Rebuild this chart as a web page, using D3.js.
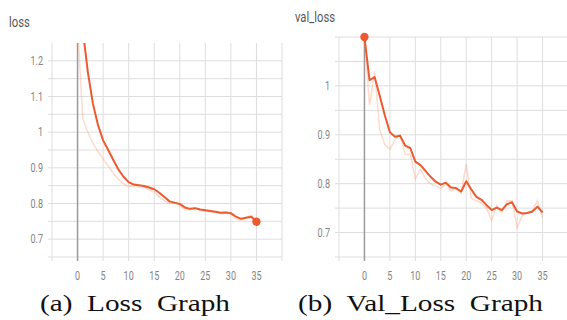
<!DOCTYPE html>
<html><head><meta charset="utf-8">
<script src="https://cdn.jsdelivr.net/npm/d3@7"></script>
<style>
html,body{margin:0;padding:0;background:#fff;}
svg{display:block;}
</style></head>
<body>
<svg id="chart" width="567" height="320"></svg>
<script>
// ---- data ----
const epochs = d3.range(0, 36);
const lossSmoothed = [1.50,1.29,1.17,1.08,1.02,0.977,0.950,0.922,0.895,0.875,0.860,0.853,0.851,0.849,0.845,0.840,0.830,0.818,0.806,0.802,0.799,0.789,0.785,0.787,0.783,0.781,0.779,0.777,0.774,0.775,0.773,0.763,0.757,0.760,0.763,0.749];
const lossRaw = [1.30,1.04,1.00,0.97,0.945,0.925,0.905,0.885,0.868,0.855,0.848,0.850,0.846,0.845,0.838,0.832,0.818,0.808,0.800,0.802,0.795,0.784,0.782,0.788,0.780,0.779,0.776,0.774,0.771,0.776,0.770,0.757,0.753,0.762,0.766,0.742];
const valSmoothed = [1.100,1.012,1.018,0.980,0.940,0.905,0.896,0.898,0.878,0.873,0.845,0.838,0.826,0.814,0.804,0.798,0.802,0.792,0.791,0.784,0.805,0.788,0.773,0.767,0.756,0.746,0.751,0.746,0.758,0.762,0.743,0.739,0.740,0.743,0.753,0.741];
const valRaw = [1.100,0.960,1.030,0.910,0.880,0.870,0.890,0.900,0.860,0.860,0.810,0.830,0.810,0.800,0.795,0.790,0.800,0.785,0.790,0.780,0.840,0.770,0.765,0.760,0.750,0.725,0.755,0.740,0.765,0.765,0.710,0.735,0.740,0.745,0.765,0.730];
const xTickLabels = [0,5,10,15,20,25,30,35];
const lossYTicks = [0.7,0.8,0.9,1,1.1,1.2];
const valYTicks = [0.7,0.8,0.9,1];
const titles = ["loss", "val_loss"];
const captions = ["(a)  Loss  Graph", "(b)  Val_Loss  Graph"];

const svg = d3.select("#chart");
const SX = 0.75; // horizontal squeeze of the photographed text
const lineColor = "#ee5a2f";
const rawColor = "#f9a27f";
const gridColor = "#dedede";

function squeezedText(g, x, y, txt, anchor, size, color, family) {
  return g.append("text")
    .attr("transform", `translate(${x},${y}) scale(${SX},1)`)
    .attr("text-anchor", anchor)
    .attr("font-family", family || "Roboto, 'Noto Sans', sans-serif")
    .attr("font-size", size)
    .attr("fill", color)
    .text(txt);
}

function panel(cfg) {
  const g = svg.append("g");
  const x = d3.scaleLinear().domain([-5, 40]).range([cfg.left, cfg.right]);
  const y = d3.scaleLinear().domain(cfg.yDomain).range([257, cfg.top]);

  const hLines = d3.range(Math.round(cfg.yDomain[0]*100), Math.round(cfg.gridTop*100)+1, 5).map(v => v/100);
  g.selectAll(".hg").data(hLines).join("line")
    .attr("x1", cfg.left - 4).attr("x2", cfg.right)
    .attr("y1", d => y(d)).attr("y2", d => y(d))
    .attr("stroke", gridColor).attr("stroke-width", 1);
  const vLines = d3.range(-5, 41, 5);
  g.selectAll(".vg").data(vLines).join("line")
    .attr("x1", d => x(d)).attr("x2", d => x(d))
    .attr("y1", cfg.top).attr("y2", 261)
    .attr("stroke", d => d === 0 ? "#9a9a9a" : gridColor)
    .attr("stroke-width", d => d === 0 ? 1.5 : 1);

  cfg.yTicks.forEach(v => squeezedText(g, cfg.left - 9, y(v) + 4, d3.format("~g")(v), "end", 12, "#858585"));
  xTickLabels.forEach(v => squeezedText(g, x(v), 280, String(v), "middle", 12, "#858585"));

  squeezedText(g, cfg.titleX, cfg.titleY, cfg.title, "start", 15, "#555");

  const clipId = "clip" + cfg.title;
  svg.append("clipPath").attr("id", clipId).append("rect")
    .attr("x", cfg.left).attr("y", cfg.top).attr("width", cfg.right - cfg.left).attr("height", 257 - cfg.top);
  const lg = g.append("g").attr("clip-path", `url(#${clipId})`);
  const line = d3.line().x((d, i) => x(epochs[i])).y(d => y(d));
  lg.append("path").datum(cfg.raw).attr("d", line)
    .attr("fill", "none").attr("stroke", rawColor).attr("stroke-opacity", 0.38).attr("stroke-width", 1.5);
  lg.append("path").datum(cfg.smooth).attr("d", line)
    .attr("fill", "none").attr("stroke", lineColor).attr("stroke-width", 2).attr("stroke-linejoin", "round");
  const di = cfg.dotIndex;
  g.append("circle").attr("cx", x(epochs[di])).attr("cy", y(cfg.smooth[di])).attr("r", 4.2).attr("fill", lineColor);

  g.append("text").attr("x", cfg.capX).attr("y", 311)
    .attr("font-family", "'Liberation Serif', 'DejaVu Serif', serif")
    .attr("font-size", 23).attr("fill", "#111")
    .attr("textLength", cfg.capW).attr("lengthAdjust", "spacingAndGlyphs")
    .attr("xml:space", "preserve").style("white-space", "pre")
    .text(cfg.caption);
}

panel({left: 52, right: 282, top: 43, yDomain: [0.65, 1.25], gridTop: 1.2, yTicks: lossYTicks,
  raw: lossRaw, smooth: lossSmoothed, dotIndex: 35, title: titles[0], titleX: 9, titleY: 27,
  caption: captions[0], capX: 40, capW: 190});
panel({left: 339, right: 568, top: 37, yDomain: [0.65, 1.1], gridTop: 1.1, yTicks: valYTicks,
  raw: valRaw, smooth: valSmoothed, dotIndex: 0, title: titles[1], titleX: 295, titleY: 22,
  caption: captions[1], capX: 298, capW: 245});
</script>
</body></html>
